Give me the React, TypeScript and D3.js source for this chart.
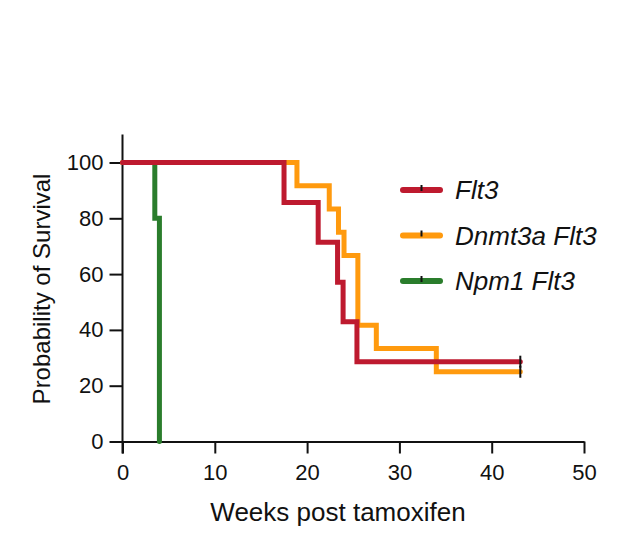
import React, { useRef, useEffect } from "react";
import { select, scaleLinear, axisBottom, axisLeft, line, curveStepAfter } from "d3";

// Kaplan-Meier steps: weeks at which survival changes, and survival (%) from that week on
const flt3Weeks = [0, 17.5, 21.2, 23.3, 23.9, 25.4, 43.1];
const flt3Surv = [100, 85.7, 71.4, 57.1, 42.9, 28.6, 28.6];

const dnmtWeeks = [0, 18.9, 22.4, 23.4, 24.0, 25.5, 27.5, 34.0, 43.1];
const dnmtSurv = [100, 91.7, 83.3, 75, 66.7, 41.7, 33.3, 25, 25];

const npmWeeks = [0, 3.5, 4.0];
const npmSurv = [100, 80, 0];

const seriesNames = ["Flt3", "Dnmt3a Flt3", "Npm1 Flt3"];
const seriesColors = ["#BE1A2F", "#FF9A0E", "#2A7D2C"];

const xTicks = [0, 10, 20, 30, 40, 50];
const yTicks = [0, 20, 40, 60, 80, 100];

const W = 641;
const H = 557;
const FONT = "'Liberation Sans', Arial, sans-serif";

function SurvivalChart() {
  const svgRef = useRef<SVGSVGElement>(null);

  useEffect(() => {
    const svg = select(svgRef.current);
    svg.selectAll("*").remove();

    const x = scaleLinear().domain([0, 50]).range([122.5, 584]);
    const y = scaleLinear().domain([0, 100]).range([441.5, 162.5]);

    // axes
    const gx = svg
      .append("g")
      .attr("transform", `translate(0,${y(0)})`)
      .call(axisBottom(x).tickValues(xTicks).tickSize(12).tickSizeOuter(0).tickPadding(11));
    const gy = svg
      .append("g")
      .attr("transform", `translate(${x(0)},0)`)
      .call(axisLeft(y).tickValues(yTicks).tickSize(13).tickSizeOuter(0).tickPadding(6));
    gy.select(".domain").attr("d", `M0,${y(110)}V${y(0) + 12}`);
    [gx, gy].forEach((g) => {
      g.selectAll("path, line").attr("stroke", "#111").attr("stroke-width", 2);
      g.selectAll("text")
        .attr("fill", "#111")
        .style("font-family", FONT)
        .style("font-size", "22px");
    });

    // survival curves, drawn so Flt3 ends up on top
    const series = [
      { weeks: flt3Weeks, surv: flt3Surv },
      { weeks: dnmtWeeks, surv: dnmtSurv },
      { weeks: npmWeeks, surv: npmSurv },
    ];
    const stepLine = line<[number, number]>()
      .x((d) => x(d[0]))
      .y((d) => y(d[1]))
      .curve(curveStepAfter);

    [2, 1, 0].forEach((i) => {
      const s = series[i];
      const pts: [number, number][] = s.weeks.map((w, j) => [w, s.surv[j]]);
      svg
        .append("path")
        .attr("d", stepLine(pts))
        .attr("fill", "none")
        .attr("stroke", seriesColors[i])
        .attr("stroke-width", 5)
        .attr("stroke-linecap", "round");
    });

    // censor marks at the end of follow-up
    [0, 1].forEach((i) => {
      const s = series[i];
      const last = s.weeks.length - 1;
      svg
        .append("line")
        .attr("x1", x(s.weeks[last]))
        .attr("x2", x(s.weeks[last]))
        .attr("y1", y(s.surv[last]) - 6)
        .attr("y2", y(s.surv[last]) + 6)
        .attr("stroke", "#111")
        .attr("stroke-width", 2);
    });

    // legend
    const legend = svg.append("g").attr("transform", "translate(403,190)");
    seriesNames.forEach((name, i) => {
      const row = legend.append("g").attr("transform", `translate(0,${i * 45.5})`);
      row
        .append("line")
        .attr("x1", 0)
        .attr("x2", 37)
        .attr("stroke", seriesColors[i])
        .attr("stroke-width", 6)
        .attr("stroke-linecap", "round");
      row
        .append("line")
        .attr("x1", 18.5)
        .attr("x2", 18.5)
        .attr("y1", -5)
        .attr("y2", 1)
        .attr("stroke", "#111")
        .attr("stroke-width", 2);
      row
        .append("text")
        .attr("x", 52)
        .attr("dy", "0.36em")
        .attr("fill", "#111")
        .style("font-family", FONT)
        .style("font-style", "italic")
        .style("font-size", "26px")
        .text(name);
    });

    // axis titles
    svg
      .append("text")
      .attr("x", 338)
      .attr("y", 521)
      .attr("text-anchor", "middle")
      .attr("fill", "#111")
      .style("font-family", FONT)
      .style("font-size", "26px")
      .text("Weeks post tamoxifen");
    svg
      .append("text")
      .attr("transform", "translate(50,289) rotate(-90)")
      .attr("text-anchor", "middle")
      .attr("fill", "#111")
      .style("font-family", FONT)
      .style("font-size", "24px")
      .text("Probability of Survival");
  }, []);

  return (
    <svg
      ref={svgRef}
      width={W}
      height={H}
      style={{ position: "absolute", left: 0, top: 0, background: "#fff" }}
    />
  );
}

export default function App() {
  return <SurvivalChart />;
}
